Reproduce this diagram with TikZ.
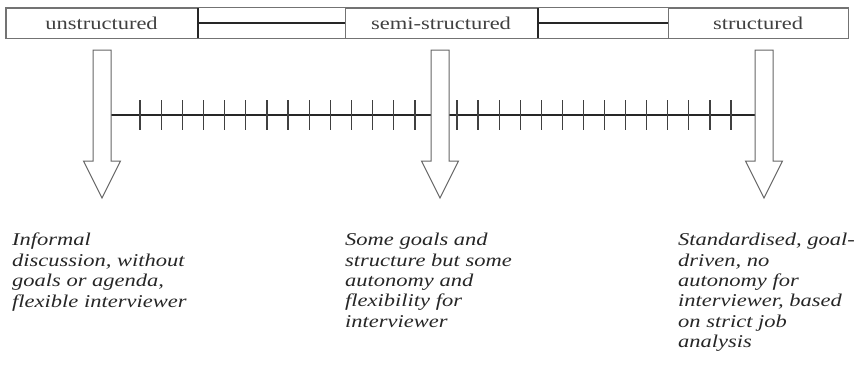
\documentclass[tikz,border=0pt]{standalone}
\usepackage{fontspec}
\setmainfont{Liberation Serif}[
  UprightFont=Liberation Serif,
  ItalicFont=Liberation Serif Italic,
  FakeStretch=1.25]
\usetikzlibrary{arrows.meta}

\begin{document}
\begin{tikzpicture}[x=1pt,y=-1pt,
  cell/.style={draw=black!55, line width=0.9pt, inner sep=0pt, minimum height=30pt,
    text=black!75, font=\fontsize{18}{20}\selectfont},
  link/.style={line width=1.6pt, draw=black!85, {Bar[width=30pt,line width=1.6pt]}-},
  blockarrow/.style={draw=black!60, line width=1pt, fill=white},
  scaleline/.style={line width=1.2pt, draw=black!85},
  tickmark/.style={line width=1.2pt, draw=black!75},
  desc/.style={anchor=north west, inner sep=0pt, align=left, text=black!85,
    font=\fontsize{18}{20.4}\selectfont\itshape}]
  \useasboundingbox (0,0) rectangle (854,383);
  % Top bar
  \node[cell, minimum width=191pt] (uns) at (101.5,23) {unstructured};
  \node[cell, minimum width=192pt] (semi) at (441,23) {semi-structured};
  \node[cell, minimum width=180pt] (str) at (758,23) {structured};
  \draw[draw=black!55, line width=0.9pt] (uns.north west) rectangle (str.south east);
  \draw[link] (uns.east) -- (semi.west);
  \draw[link] (semi.east) -- (str.west);
  % Scale line with ticks
  \draw[scaleline] (111,115) -- (431,115);
  \draw[scaleline] (449,115) -- (755,115);
  \foreach \i in {0,...,13} {
    \draw[tickmark] (140+21.15*\i,100) -- ++(0,30);
    \draw[tickmark] (457+21.08*\i,100) -- ++(0,30);
  }
  % Block arrows
  \foreach \x in {102,440,764}
    \draw[blockarrow] (\x-9,50) -- (\x+9,50) -- (\x+9,161) -- (\x+18.5,161)
      -- (\x,198) -- (\x-18.5,161) -- (\x-9,161) -- cycle;
  % Descriptions
  \node[desc] (d1) at (12,233) {Informal\\discussion, without\\goals or agenda,\\flexible interviewer};
  \node[desc] (d2) at (345,233) {Some goals and\\structure but some\\autonomy and\\flexibility for\\interviewer};
  \node[desc] (d3) at (678,233) {Standardised, goal-\\driven, no\\autonomy for\\interviewer, based\\on strict job\\analysis};
\end{tikzpicture}
\end{document}
